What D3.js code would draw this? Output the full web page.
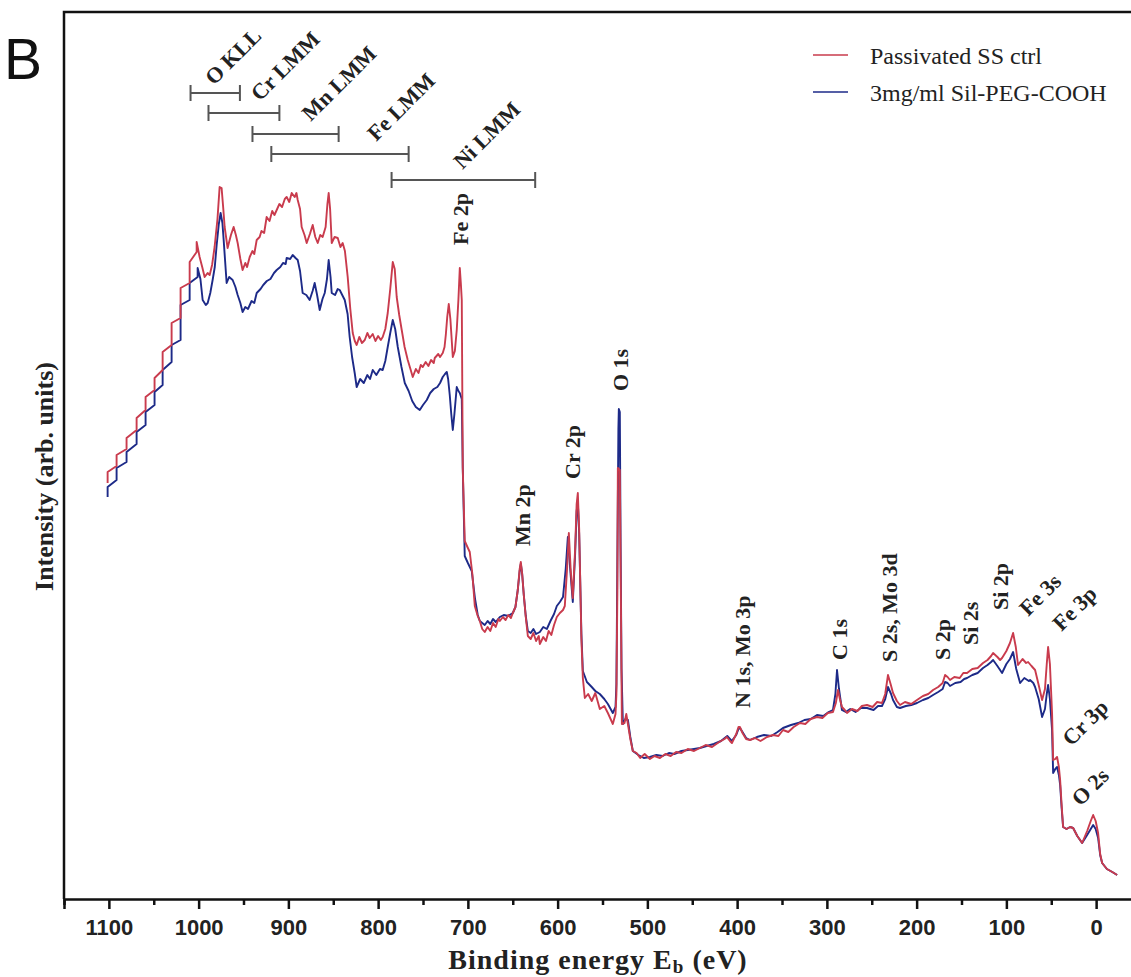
<!DOCTYPE html>
<html>
<head>
<meta charset="utf-8">
<script src="https://cdn.jsdelivr.net/npm/d3@7"></script>
<style>
  html, body { margin: 0; padding: 0; background: #fff; }
  svg { display: block; }
</style>
</head>
<body>
<svg id="chart" width="1131" height="977"></svg>
<script>
// survey spectra, binding energy (eV) vs intensity (arb. units)
const ctrlSpectrum = [
  [1101.4,416],[1101.4,427],[1091.4,433],[1091.4,444],[1080.3,450],[1080.3,461],[1069.1,469],[1069.1,481],
  [1059.1,489],[1059.1,502],[1049.1,509],[1049.1,521],[1040.1,529],[1040.1,547],[1030.1,554],[1030.1,576],
  [1020.1,581],[1020.1,611],[1010.0,616],[1010.0,637],[1002.2,647],[1002.2,657],
  [998.9,642],[996,632],[993.3,622],[990,626],[987.7,624],[985,634],[982.2,652],[979,680],[976.6,712],[974.4,711],
  [972.5,690],[971.0,672],[967.7,651],[964,664],[961.0,672],[958.5,664],[956.5,656],[953.5,640],[951.0,629],
  [948,636],[946,632],[943.1,642],[940,648],[938,645],[935.3,659],[932,662],[930,668],[927,666],[924.2,682],
  [921,678],[918,688],[915.5,684],[913.0,689],[910,695],[907,692],[904,700],[901.9,702],[899,697],[896.3,706],
  [893,702],[891,706],[889.6,699],[887,690],[885.2,672],[882,664],[879.6,656],[876,665],[872.9,674],[870,662],
  [867.3,656],[864.5,664],[861.8,662],[858.5,672],[856.5,695],[855.1,706],[853.5,690],[851.7,656],[848.5,662],
  [845.0,661],[842,652],[839.5,656],[837,648],[833.9,622],[831,590],[828.3,566],[826,558],[823.9,554],[821,562],
  [818,556],[814.9,559],[812,566],[809.4,561],[806,565],[803,558],[800,563],[797,559],[794.9,562],[792,570],
  [789.3,586],[786.5,610],[783.7,637],[781.5,630],[779.3,602],[776.5,584],[773.7,569],[770.5,552],[767.0,539],
  [764,530],[761.4,522],[758,530],[755,526],[752.5,534],[750.3,532],[747,537],[744,533],[741,539],[738,536],
  [736.9,541],[733,545],[731,542],[728.0,546],[726,552],[724.6,564],[723,582],[721.3,595],[719.5,580],[716.8,542],
  [714.5,548],[712.4,569],[710.5,600],[709.0,631],[707.8,615],[706.8,599],[705.7,431],[703.5,358],[700.5,352],
  [697.9,347],[695,325],[692.3,293],[689,283],[686.7,278],[684,270],[681.2,267],[678,272],[675,268],[672,276],
  [669,272],[666,280],[664.4,278],[661,282],[658,279],[655,284],[652,281],[649.9,286],[647,292],[644.4,309],
  [642.3,330],[641.0,337],[639.5,325],[637.7,304],[635.5,282],[633.2,263],[630,260],[627,266],[624,258],[621,263],
  [619.8,255],[616,262],[613,258],[610,268],[607,264],[604,274],[600.9,282],[597.5,286],[594,289],[592.0,293],
  [589.5,330],[587.5,366],[585.5,330],[583.1,301],[580.5,350],[578.8,395],[577.5,406],[576,370],[573.5,260],
  [571.9,221],[569.7,201],[566,205],[562,198],[558,206],[553.0,190],[548,193],[544,186],[538.5,175],[535.5,185],
  [534.5,205],[533.5,300],[532.9,431],[530.7,429],[529.5,300],[528.4,175],[525.5,176],[523.5,185],[521.7,175],
  [519,160],[516.2,148],[512,146],[508,141],[503,145],[497.2,140],[492,143],[486,141],[480,145],[474,143],
  [468,147],[462,146],[455,150],[448,148],[441.5,151],[435,154],[428,152],[420,157],[414,160],[411.4,162],
  [408,158],[405.8,156],[401,165],[398.5,172],[396.9,172],[394,166],[390,160],[385.7,159],[380,161],[374,158],
  [366.8,162],[360,164],[354,163],[348.9,169],[343,167],[337,172],[330.0,176],[324,175],[318,180],[311.0,182],
  [305,181],[299,186],[293.2,187],[290,196],[287.6,209],[285.5,200],[283.2,192],[280,189],[277.6,186],[272,190],
  [266,188],[261,193],[255.3,194],[249,192],[244,197],[238.6,196],[235,205],[231.9,224],[229,215],[226.3,206],
  [222,198],[218.5,194],[213,197],[206,195],[199.6,199],[193,203],[187,205],[181.7,209],[176,212],[171,216],
  [168.3,224],[165.5,222],[162.8,219],[158,222],[152,221],[148,226],[143.8,226],[138,230],[132,231],[126.0,236],
  [121,239],[117,243],[114.8,246],[110,242],[107,239],[104.8,241],[100,248],[96,256],[92.5,266],[89.5,252],
  [87.0,234],[82,240],[78,236],[75.8,237],[72,233],[68.0,229],[64,214],[60.2,199],[57,210],[55,235],[53.5,252],
  [51.5,235],[49.1,186],[47.9,139],[45.5,140],[43.5,142],[41.5,132],[40.1,119],[38.5,95],[36.8,72],[33,70],
  [29,72],[25.6,71],[21,63],[15.6,56],[10,68],[6,78],[3.3,84],[0.5,78],[-2.2,66],[-4.5,45],[-6.7,36],[-12,30],
  [-18,27],[-23.4,24]
];

const pegSpectrum = [
  [1101.4,402],[1101.4,412],[1091.4,419],[1091.4,431],[1080.3,437],[1080.3,447],[1069.1,455],[1069.1,467],
  [1059.1,474],[1059.1,487],[1049.1,494],[1049.1,507],[1040.1,514],[1040.1,529],[1030.1,537],[1030.1,554],
  [1020.1,559],[1020.1,594],[1010.0,599],[1010.0,616],[1001.1,622],[1001.1,631],
  [998,620],[995.5,599],[992,594],[989.9,596],[987,606],[984.4,619],[982,632],[979.9,654],[977.5,675],[975.5,686],
  [973.5,676],[972.1,659],[968.8,616],[966,622],[962.1,619],[959,612],[956.5,604],[953.5,596],[951.0,587],
  [948,592],[945,590],[941,598],[938,596],[935.3,606],[931,610],[928,614],[924,618],[920,620],[916,626],
  [913.0,629],[909,632],[906,636],[903,635],[901.9,641],[898,640],[895.2,644],[892,641],[889.6,639],[887,628],
  [884.1,606],[880,604],[876.3,599],[873,608],[870.7,616],[868,604],[865.1,589],[862,600],[859.5,606],[857,620],
  [855.1,639],[853,622],[851.7,606],[848,604],[845,610],[842.8,609],[840,604],[837.2,599],[834,585],[831.7,562],
  [829,542],[826.1,526],[823.9,512],[820,520],[816,516],[812,524],[809,520],[806.0,529],[802,524],[798,530],
  [794.9,529],[792,538],[789.3,552],[786.5,566],[783.7,579],[781,570],[778.1,552],[774,532],[770.3,516],
  [766,508],[762,498],[758,492],[753.6,489],[750,494],[745.8,499],[742,506],[738,510],[734,512],[731,516],
  [728.0,522],[725.5,525],[723.5,527],[722,520],[720.2,504],[718.5,485],[716.8,469],[715,485],[712.4,512],
  [710.5,508],[709.0,506],[706.8,500],[705.7,431],[703.5,343],[700,336],[695.7,328],[692,300],[689,284],
  [686.7,278],[684,276],[681.2,274],[678,278],[675,275],[672,280],[669,277],[664.4,282],[660,284],[655,283],
  [649.9,286],[647,292],[644.4,309],[642.3,328],[641.0,335],[639.5,325],[637.7,304],[635.5,283],[633.2,268],
  [630,266],[627,270],[624,265],[619.8,267],[616,272],[612,270],[608,278],[604,285],[600.9,293],[597.5,297],
  [594,302],[591,330],[588.6,362],[586,330],[583.1,297],[580.5,345],[578.8,388],[577.5,397],[576,365],
  [573.5,265],[571.9,228],[567.4,217],[562,212],[558,208],[553.0,205],[548,200],[544,195],[538.5,186],
  [535.5,192],[534.5,215],[533.5,330],[532.3,470],[531.8,490],[530.7,487],[529.8,350],[528.8,230],[527.3,175],
  [524.5,180],[521.7,179],[519,162],[516.2,148],[510,144],[504,141],[497.2,142],[490,144],[483,143],[476,146],
  [470,145],[462,148],[455,149],[448,150],[441.5,151],[434,153],[426,155],[418,158],[411,163],[406,158],
  [401,164],[398.5,170],[396.9,171],[394,167],[390,161],[385.7,159],[378,162],[370,164],[362,163],[355,167],
  [348.9,171],[340,174],[332,176],[325,179],[318,180],[311.0,184],[304,183],[298,187],[293.2,189],[290.5,205],
  [288.7,229],[286.5,210],[283.2,189],[279,187],[274,190],[268,187],[262,191],[255.3,191],[248,189],[243,193],
  [238.6,193],[235,200],[231.9,212],[228.5,205],[226.3,199],[222,192],[218.5,191],[212,193],[206,194],
  [199.6,196],[193,199],[187,201],[181.7,204],[176,207],[171,210],[168.3,217],[165.5,216],[162.8,213],[157,216],
  [151,217],[147,220],[143.8,221],[138,224],[132,226],[126.0,231],[121,234],[117,237],[114.8,239],[110,233],
  [107,229],[104.8,226],[100,235],[96,240],[92.5,247],[89,230],[84.7,216],[80,221],[75,218],[73.6,219],
  [70,216],[68.0,212],[64,200],[60.2,182],[57,190],[55,205],[53.5,214],[51.5,200],[49.1,169],[47.9,126],
  [45.5,130],[43.5,132],[41.5,124],[40.1,114],[38.5,92],[36.8,72],[33,70],[29,72],[25.6,71],[21,63],[15.6,56],
  [10,64],[6,70],[3.3,74],[0.5,70],[-2.2,61],[-4.5,44],[-6.7,36],[-12,30],[-18,27],[-23.4,24]
];

const seriesNames = ["Passivated SS ctrl", "3mg/ml Sil-PEG-COOH"];
const seriesColors = ["#c93b4d", "#1d2a88"];

const majorTicks = [1100, 1000, 900, 800, 700, 600, 500, 400, 300, 200, 100, 0];
const minorTicks = [1150, 1050, 950, 850, 750, 650, 550, 450, 350, 250, 150, 50, -50];

// Auger ranges: [label, high E, low E, intensity level of the bar]
const augerRanges = [
  ["O KLL", 1009, 954, 806],
  ["Cr LMM", 989, 910, 786],
  ["Mn LMM", 940, 844, 765],
  ["Fe LMM", 919, 766, 745],
  ["Ni LMM", 785, 625, 719]
];
// where each Auger name starts: [energy, intensity]
const augerLabelAt = [[983, 813], [932, 797], [875, 777], [802, 757], [706, 729]];

// photoelectron peak labels: [text, energy, intensity, angle]
const peakLabels = [
  ["Fe 2p", 700.1, 654, -90],
  ["O 1s", 521.7, 508, -90],
  ["Cr 2p", 575.3, 420, -90],
  ["Mn 2p", 631.0, 353, -90],
  ["N 1s, Mo 3p", 385.7, 191, -90],
  ["C 1s", 277.6, 239, -90],
  ["S 2s, Mo 3d", 221.8, 237, -90],
  ["S 2p", 162.8, 239, -90],
  ["Si 2s", 131.5, 254, -90],
  ["Si 2p", 98.1, 289, -90],
  ["Fe 3s", 75.5, 282, -45],
  ["Fe 3p", 38.7, 267, -45],
  ["Cr 3p", 27.6, 152, -45],
  ["O 2s", 17.5, 92, -45]
];

const svg = d3.select("#chart");
const serif = "'Liberation Serif', 'Times New Roman', serif";
const sans = "'Liberation Sans', Arial, sans-serif";

const x = d3.scaleLinear().domain([1150, -50]).range([64, 1141]);
const y = d3.scaleLinear().domain([0, 887]).range([899, 12]);

// frame
svg.append("path")
  .attr("d", `M${x(-50)},${y(887)}H${x(1150)}V${y(0)}`)
  .attr("fill", "none")
  .attr("stroke", "#111")
  .attr("stroke-width", 2.5);

// x axis
const gx = svg.append("g").attr("transform", `translate(0,${y(0)})`);
gx.call(d3.axisBottom(x).tickValues(majorTicks).tickSize(10).tickPadding(10).tickFormat(d3.format("d")));
gx.select(".domain").attr("stroke", "#111").attr("stroke-width", 2.5);
gx.selectAll(".tick line").attr("stroke", "#111").attr("stroke-width", 2.5);
gx.selectAll(".tick text")
  .attr("font-family", sans)
  .attr("font-weight", "bold")
  .attr("font-size", 22)
  .attr("fill", "#222");

const gm = svg.append("g").attr("transform", `translate(0,${y(0)})`);
gm.call(d3.axisBottom(x).tickValues(minorTicks).tickSize(6).tickFormat(""));
gm.select(".domain").remove();
gm.selectAll(".tick line").attr("stroke", "#111").attr("stroke-width", 2.5);

// axis titles
const xt = svg.append("text")
  .attr("x", 598)
  .attr("y", 969)
  .attr("text-anchor", "middle")
  .attr("font-family", serif)
  .attr("font-weight", "bold")
  .attr("font-size", 28)
  .attr("letter-spacing", 1)
  .attr("fill", "#222");
xt.append("tspan").text("Binding energy E");
xt.append("tspan").attr("font-size", 19).attr("dy", 4).text("b");
xt.append("tspan").attr("dy", -4).text(" (eV)");

svg.append("text")
  .attr("transform", `translate(53,${(y(0) + y(887)) / 2 + 21}) rotate(-90)`)
  .attr("text-anchor", "middle")
  .attr("font-family", serif)
  .attr("font-weight", "bold")
  .attr("font-size", 26)
  .attr("fill", "#222")
  .text("Intensity (arb. units)");

// panel letter
svg.append("text")
  .attr("x", 4)
  .attr("y", 79)
  .attr("font-family", sans)
  .attr("font-size", 57)
  .attr("fill", "#111")
  .text("B");

// spectra
const line = d3.line()
  .x((d) => x(d[0]))
  .y((d) => y(d[1]));

[pegSpectrum, ctrlSpectrum].forEach((data, i) => {
  svg.append("path")
    .datum(data)
    .attr("fill", "none")
    .attr("stroke", seriesColors[1 - i])
    .attr("stroke-width", 1.9)
    .attr("stroke-linejoin", "round")
    .attr("d", line);
});

// Auger brackets
const brackets = svg.append("g")
  .attr("stroke", "#555")
  .attr("stroke-width", 2)
  .attr("fill", "none");
augerRanges.forEach((r) => {
  const yy = y(r[3]);
  brackets.append("path")
    .attr("d", `M${x(r[1])},${yy - 8}V${yy + 8}M${x(r[1])},${yy}H${x(r[2])}M${x(r[2])},${yy - 8}V${yy + 8}`);
});

svg.append("g")
  .selectAll("text")
  .data(augerRanges)
  .join("text")
  .attr("transform", (d, i) => `translate(${x(augerLabelAt[i][0])},${y(augerLabelAt[i][1])}) rotate(-45)`)
  .attr("font-family", serif)
  .attr("font-weight", "bold")
  .attr("font-size", 22)
  .attr("fill", "#222")
  .text((d) => d[0]);

// peak labels
svg.append("g")
  .selectAll("text")
  .data(peakLabels)
  .join("text")
  .attr("transform", (d) => `translate(${x(d[1])},${y(d[2])}) rotate(${d[3]})`)
  .attr("font-family", serif)
  .attr("font-weight", "bold")
  .attr("font-size", 22)
  .attr("fill", "#222")
  .text((d) => d[0]);

// legend
const legend = svg.append("g");
seriesNames.forEach((name, i) => {
  const ly = i === 0 ? 55 : 92;
  legend.append("line")
    .attr("x1", 813).attr("x2", 848)
    .attr("y1", ly).attr("y2", ly)
    .attr("stroke", seriesColors[i])
    .attr("stroke-width", 1.6);
  legend.append("text")
    .attr("x", 870)
    .attr("y", ly + 9)
    .attr("font-family", serif)
    .attr("font-size", 24)
    .attr("fill", "#222")
    .text(name);
});
</script>
</body>
</html>
